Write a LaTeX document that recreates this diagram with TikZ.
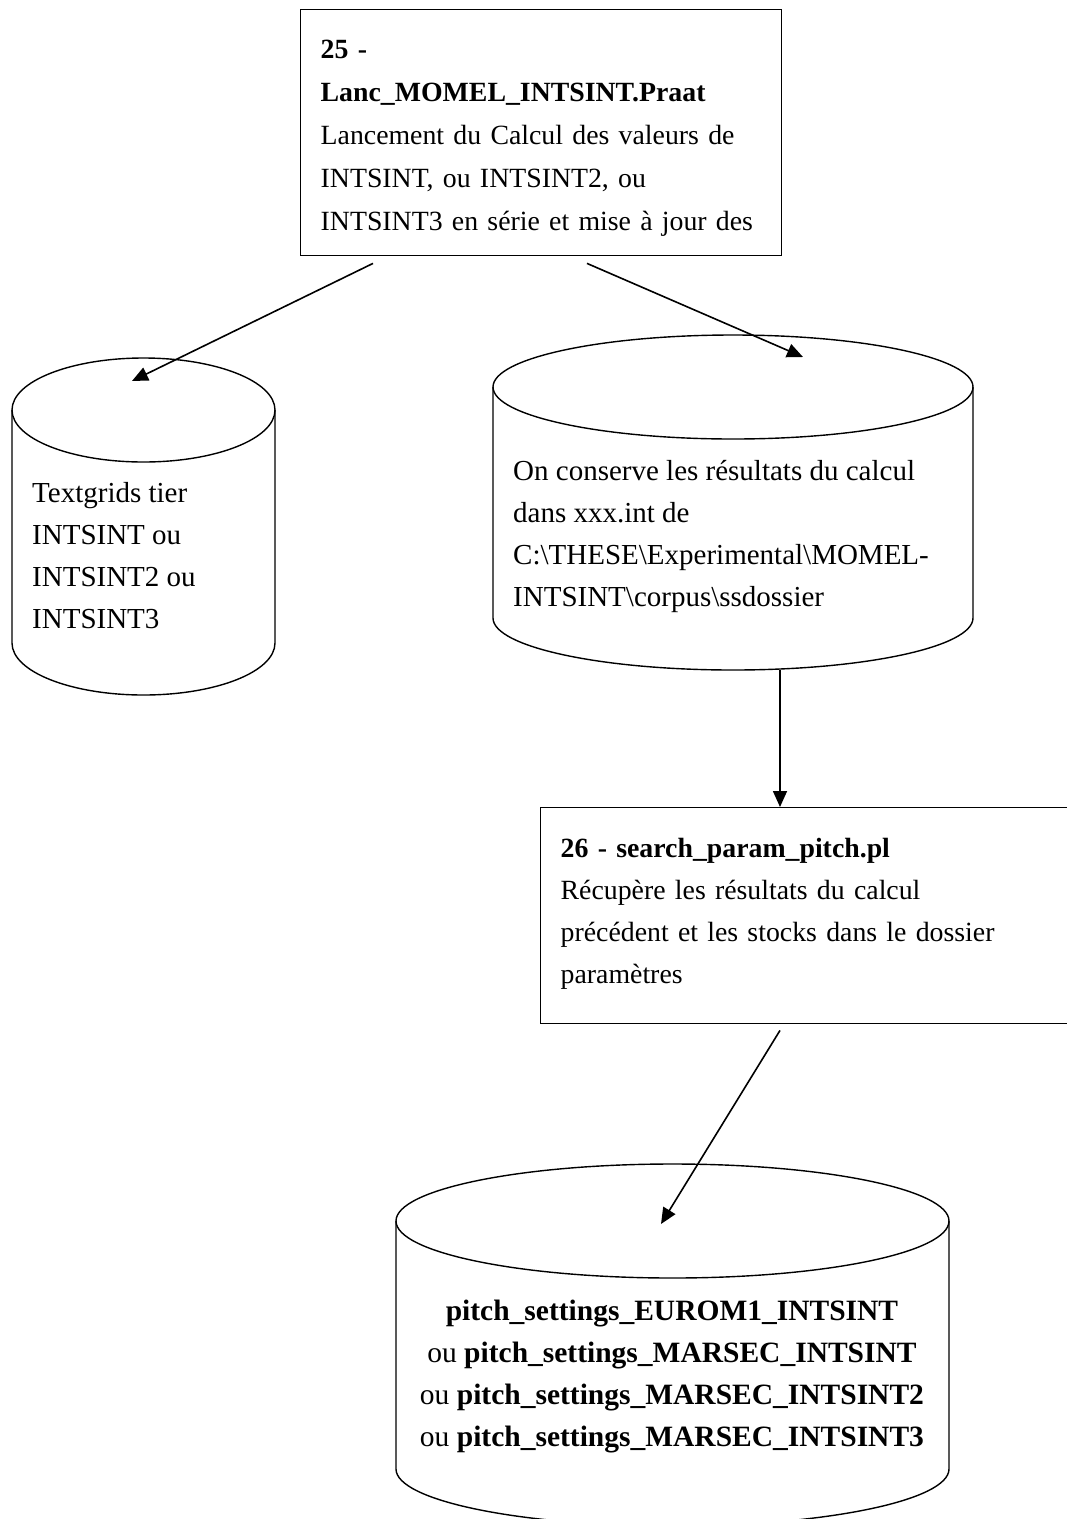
\documentclass[tikz,border=0pt]{standalone}
\usepackage{fontspec}
\setmainfont{Liberation Serif}
\usepackage{tikz}
\usetikzlibrary{arrows.meta,positioning,calc}
\newcommand{\fs}{\fontsize{29}{42}\selectfont}
\newcommand{\fsbox}{\fontsize{27.8}{42}\selectfont}
\newcommand{\bs}{\textbackslash}

\begin{document}
\begin{tikzpicture}[x=1pt,y=-1pt,>={Triangle[length=16pt,width=14pt]},
  prog/.style={draw,line width=1.4pt,anchor=north west,align=left,inner xsep=20pt,font=\fsbox},
  dtxt/.style={inner sep=0pt,anchor=north west,align=left,font=\fs},
  arr/.style={->,line width=1.6pt}]
\useasboundingbox (0,0) rectangle (1067,1519);
% data stores
\foreach \n/\xl/\xr/\yt/\yb/\ry in {tg/12/275/410/643/52,res/493/973/387/618/52,ps/396/949/1221/1469/57}{
  \draw[line width=1.4pt] (\xl,\yt) -- (\xl,\yb) arc[start angle=180,end angle=0,x radius={(\xr-\xl)/2},y radius=\ry] -- (\xr,\yt);
  \draw[line width=1.4pt] ({(\xl+\xr)/2},\yt) ellipse[x radius={(\xr-\xl)/2},y radius=\ry];
  \coordinate (\n-top) at ({(\xl+\xr)/2},\yt);
  \coordinate (\n-bot) at ({(\xl+\xr)/2},\yb+\ry);
}
\node[prog,minimum width=481,minimum height=246,text width=441,font=\fontsize{27.8}{43}\selectfont] (lanc) at (300,9)
  {\rule{0pt}{30pt}\textbf{25 -}\\\textbf{Lanc\_MOMEL\_INTSINT.Praat}\\Lancement du Calcul des valeurs de\\INTSINT, ou INTSINT2, ou\\INTSINT3 en série et mise à jour des};
\node[dtxt] (tgrid) at (32,482) {Textgrids tier\\INTSINT ou\\INTSINT2 ou\\INTSINT3};
\node[dtxt] (intres) at (513,460) {On conserve les résultats du calcul\\dans xxx.int de\\C:\bs THESE\bs Experimental\bs MOMEL-\\INTSINT\bs corpus\bs ssdossier};
\node[prog,minimum width=560,minimum height=216,text width=520] (search) at (540,807)
  {\textbf{26 - search\_param\_pitch.pl}\\Récupère les résultats du calcul\\précédent et les stocks dans le dossier\\paramètres\\[-32pt]\mbox{}};
\node[dtxt,anchor=north,align=center,font=\fontsize{29.5}{42}\selectfont] (pset) at (672,1300)
  {\textbf{pitch\_settings\_EUROM1\_INTSINT}\\ou \textbf{pitch\_settings\_MARSEC\_INTSINT}\\ou \textbf{pitch\_settings\_MARSEC\_INTSINT2}\\ou \textbf{pitch\_settings\_MARSEC\_INTSINT3}};
% flow
\coordinate (resout) at ([xshift=47]res-bot);
\draw[arr] ([shift={(73,7)}]lanc.south west) -- ([shift={(-11.5,-29)}]tg-top);
\draw[arr] ([shift={(287,7)}]lanc.south west) -- ([shift={(70,-30)}]res-top);
\draw[arr] (resout) -- (resout |- search.north);
\draw[arr] ([shift={(240,6)}]search.south west) -- ([shift={(-11.5,3)}]ps-top);
\end{tikzpicture}
\end{document}
